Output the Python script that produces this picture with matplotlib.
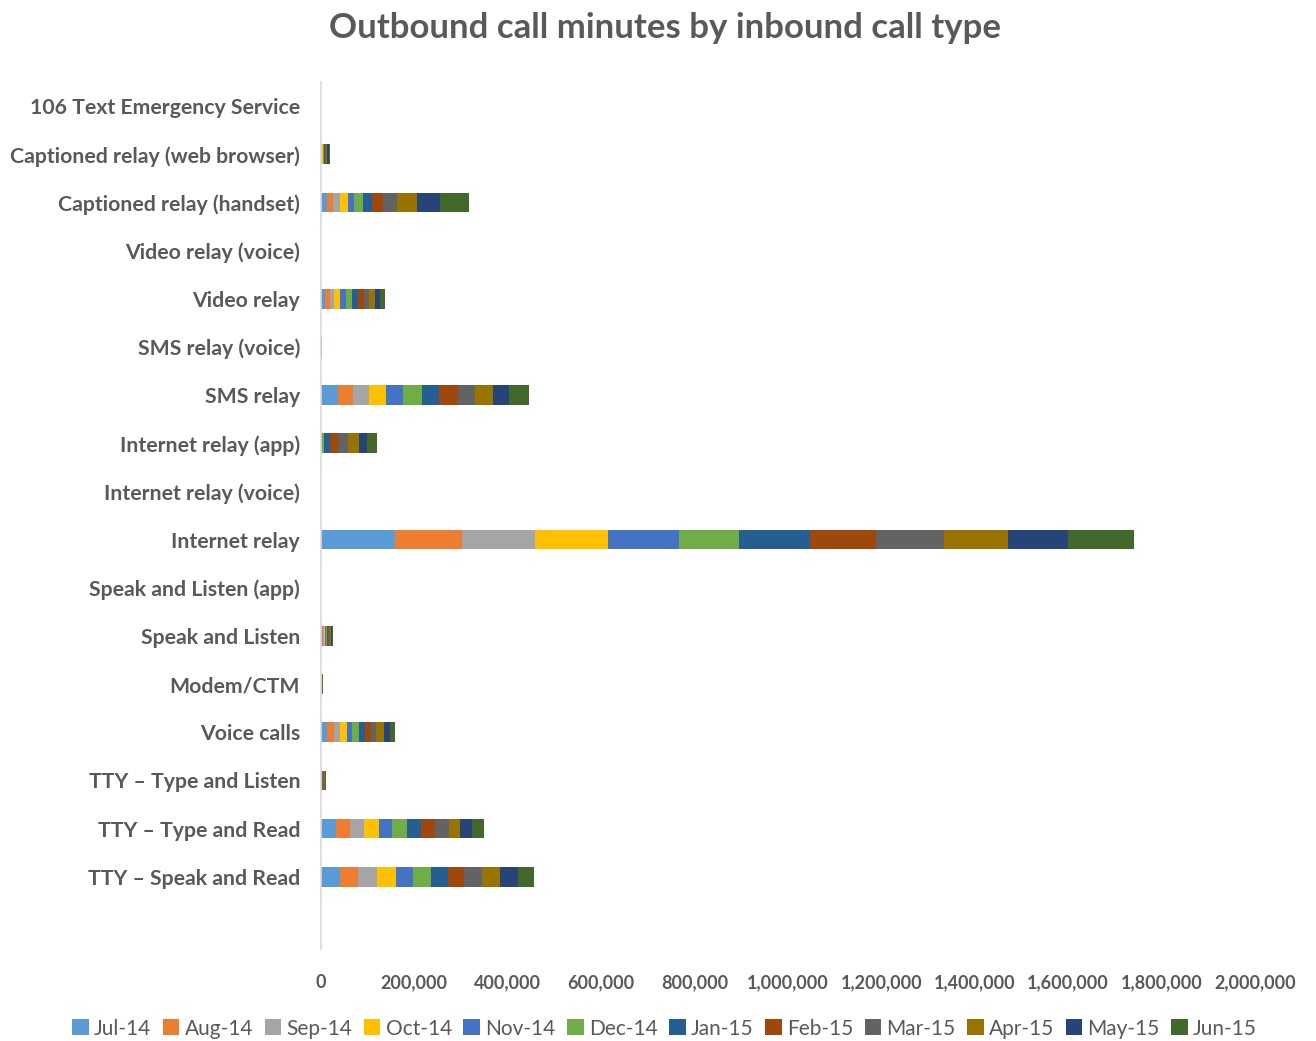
import matplotlib.pyplot as plt
import numpy as np

# categories, top to bottom (last slot is an empty category in the original)
categories = [
    "106 Text Emergency Service",
    "Captioned relay (web browser)",
    "Captioned relay (handset)",
    "Video relay (voice)",
    "Video relay",
    "SMS relay (voice)",
    "SMS relay",
    "Internet relay (app)",
    "Internet relay (voice)",
    "Internet relay",
    "Speak and Listen (app)",
    "Speak and Listen",
    "Modem/CTM",
    "Voice calls",
    "TTY \u2013 Type and Listen",
    "TTY \u2013 Type and Read",
    "TTY \u2013 Speak and Read",
    "",
]

months = ["Jul-14", "Aug-14", "Sep-14", "Oct-14", "Nov-14", "Dec-14",
          "Jan-15", "Feb-15", "Mar-15", "Apr-15", "May-15", "Jun-15"]

colors = ["#5B9BD5", "#ED7D31", "#A5A5A5", "#FFC000", "#4472C4", "#70AD47",
          "#255E91", "#9E480E", "#636363", "#997300", "#264478", "#43682B"]

# minutes per category, one value per month (Jul-14 .. Jun-15)
text_emergency = [20, 20, 20, 20, 20, 20, 20, 20, 20, 20, 20, 20]
captioned_web = [500, 1000, 1000, 1200, 1200, 1500, 1500, 1800, 2000, 2200, 2300, 2500]
captioned_handset = [12000, 14300, 14300, 17000, 14000, 18600, 20000, 23500, 30000, 41500, 50500, 62000]
video_voice = [80, 80, 80, 80, 80, 80, 80, 80, 80, 80, 80, 80]
video_relay = [8600, 9900, 10000, 12800, 11400, 13700, 12800, 12000, 11600, 12800, 9900, 12200]
sms_voice = [100, 100, 150, 150, 150, 200, 200, 250, 300, 350, 400, 600]
sms_relay = [35700, 32000, 35000, 37000, 37000, 39000, 38000, 40000, 37000, 37000, 36000, 41000]
internet_app = [0, 0, 0, 0, 0, 6400, 14000, 16500, 20000, 23500, 19000, 21400]
internet_voice = [60, 60, 60, 60, 60, 60, 60, 60, 60, 60, 60, 60]
internet_relay = [158000, 144000, 156000, 156000, 153000, 128000, 153000, 140000, 147000, 137000, 128000, 141000]
speak_listen_app = [40, 40, 40, 40, 40, 40, 40, 40, 40, 40, 40, 40]
speak_listen = [2100, 2200, 2100, 2200, 2100, 2200, 2100, 2200, 2100, 2200, 2100, 2200]
modem_ctm = [300, 300, 350, 300, 350, 400, 450, 500, 500, 550, 550, 600]
voice_calls = [12800, 15600, 12800, 14300, 12000, 15000, 12200, 12200, 12000, 15800, 13500, 10000]
tty_type_listen = [700, 700, 650, 700, 650, 750, 800, 850, 1400, 850, 800, 850]
tty_type_read = [32800, 30000, 30000, 30600, 27800, 32000, 30000, 30000, 30000, 25000, 24200, 27200]
tty_speak_read = [40700, 39200, 40700, 40000, 37000, 37000, 36400, 34300, 40000, 37900, 37700, 35800]
empty_row = [0] * 12

rows = [text_emergency, captioned_web, captioned_handset, video_voice, video_relay,
        sms_voice, sms_relay, internet_app, internet_voice, internet_relay,
        speak_listen_app, speak_listen, modem_ctm, voice_calls, tty_type_listen,
        tty_type_read, tty_speak_read, empty_row]

data = np.array(rows, dtype=float)  # shape (categories, months)

plt.rcParams['font.family'] = ['Lato', 'DejaVu Sans']
grey = "#595959"

fig = plt.figure(figsize=(13.16, 10.41), dpi=100)
ax = fig.add_axes([0.2439, 0.0884, 0.7097, 0.8328])

y = np.arange(len(categories))
left = np.zeros(len(categories))
for i, m in enumerate(months):
    ax.barh(y, data[:, i], left=left, height=0.41, color=colors[i], label=m,
            linewidth=0)
    left += data[:, i]

ax.set_ylim(len(categories) - 0.5, -0.5)
ax.set_xlim(0, 2000000)
ax.set_xticks(np.arange(0, 2000001, 200000))
ax.set_xticklabels([f"{v:,}" for v in range(0, 2000001, 200000)])
ax.set_yticks(y)
ax.set_yticklabels(categories)

for s in ["top", "right", "bottom"]:
    ax.spines[s].set_visible(False)
ax.spines["left"].set_color("#D9D9D9")
ax.spines["left"].set_linewidth(1.2)

ax.tick_params(axis="y", length=0, pad=15, labelsize=15.3, labelcolor=grey)
ax.tick_params(axis="x", length=0, pad=18, labelsize=13, labelcolor=grey)
for lab in ax.get_yticklabels() + ax.get_xticklabels():
    lab.set_fontweight("bold")

fig.suptitle("Outbound call minutes by inbound call type", x=0.505, y=0.988,
             fontsize=25, fontweight="bold", color=grey)

leg = fig.legend(loc="center", bbox_to_anchor=(0.505, 0.012), ncol=12,
                 frameon=False, fontsize=15, handlelength=0.8, handleheight=0.8,
                 handletextpad=0.25, columnspacing=0.55)
for t in leg.get_texts():
    t.set_color(grey)

fig.savefig("out.png", dpi=100)
